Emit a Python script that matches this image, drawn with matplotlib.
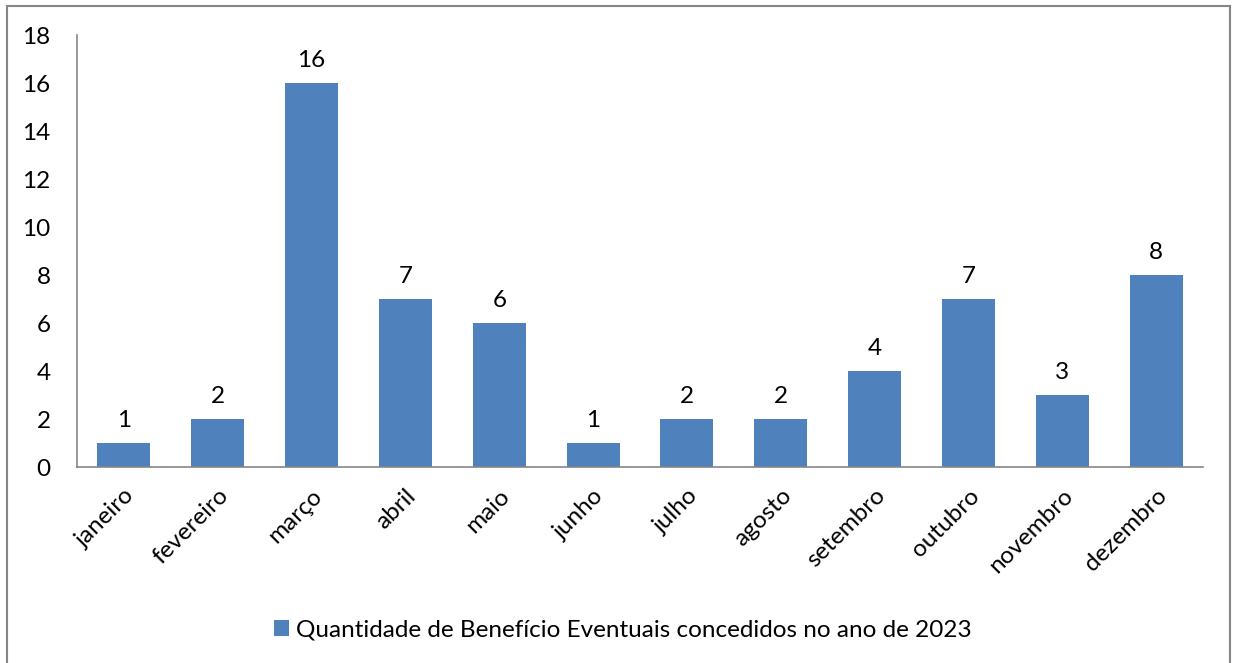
import matplotlib.pyplot as plt
from matplotlib.patches import Rectangle

# dados do grafico
meses = ["janeiro", "fevereiro", "março", "abril", "maio", "junho",
         "julho", "agosto", "setembro", "outubro", "novembro", "dezembro"]
quantidade = [1, 2, 16, 7, 6, 1, 2, 2, 4, 7, 3, 8]
legenda = "Quantidade de Benefício Eventuais concedidos no ano de 2023"
y_ticks = [0, 2, 4, 6, 8, 10, 12, 14, 16, 18]

plt.rcParams["font.family"] = ["Lato", "DejaVu Sans"]
fs = 17.5

fig = plt.figure(figsize=(12.34, 6.63), dpi=100)
ax = fig.add_axes([77 / 1234, 1 - 467 / 663, (1203 - 77) / 1234, (467 - 35) / 663])

cor = "#4F81BD"
x = range(len(meses))
barras = ax.bar(x, quantidade, width=0.565, color=cor, label=legenda)

for xi, v in zip(x, quantidade):
    ax.text(xi, v + 0.5, str(v), ha="center", va="bottom", fontsize=fs)

ax.set_xlim(-0.5, len(meses) - 0.5)
ax.set_ylim(0, 18)
ax.set_yticks(y_ticks)
ax.set_xticks(list(x))
ax.set_xticklabels(meses, rotation=45, ha="right", rotation_mode="anchor", fontsize=fs)
ax.tick_params(axis="both", length=0, labelsize=fs)
ax.tick_params(axis="y", pad=19)
ax.tick_params(axis="x", pad=13)

for s in ["top", "right"]:
    ax.spines[s].set_visible(False)
for s in ["left", "bottom"]:
    ax.spines[s].set_color("#868686")
    ax.spines[s].set_linewidth(1.2)

fig.legend(handles=[barras], labels=[legenda], loc="center",
           bbox_to_anchor=(0.505, 1 - 630 / 663), frameon=False, fontsize=fs,
           handlelength=0.6, handleheight=0.6, handletextpad=0.3)

# moldura do grafico
moldura = Rectangle((7 / 1234, -0.05), (1230 - 7) / 1234, 1 - 6 / 663 + 0.05,
                    transform=fig.transFigure, fill=False,
                    edgecolor="#868686", linewidth=1.5)
fig.patches.append(moldura)

fig.savefig("out.png", dpi=100)
